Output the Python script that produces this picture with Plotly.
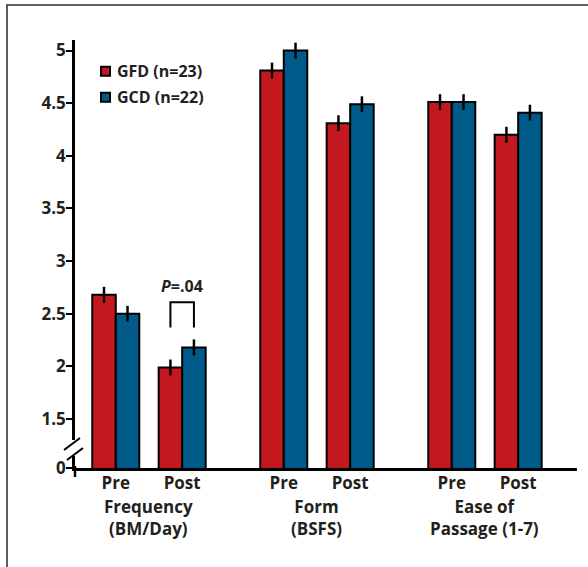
import plotly.graph_objects as go

# ---------------- data ----------------
topics = [["Frequency", "(BM/Day)"], ["Form", "(BSFS)"], ["Ease of", "Passage (1-7)"]]
periods = ["Pre", "Post"]
series_names = ["GFD (n=23)", "GCD (n=22)"]
gfd_vals = [2.68, 1.99, 4.81, 4.31, 4.51, 4.20]
gcd_vals = [2.50, 2.18, 5.00, 4.49, 4.51, 4.41]
gfd_err = [0.076, 0.075, 0.075, 0.075, 0.075, 0.076]
gcd_err = [0.075, 0.076, 0.075, 0.075, 0.075, 0.075]
y_tick_vals = [1.5, 2, 2.5, 3, 3.5, 4, 4.5, 5]
y_tick_text = ["1.5", "2", "2.5", "3", "3.5", "4", "4.5", "5"]
y_break_label = "0"
p_label = "<i>P</i>=.04"

# ---------------- styles / layout ----------------
RED = "#C4181F"
BLUE = "#005A8A"
INK = "#231F20"
FONT = "Open Sans"
WEIGHT = 700
W, H = 588, 567
L, R, T, B = 75, 11, 40, 99
PW, PH = W - L - R, H - T - B


def px(x):
    return (x - L) / PW


def py(y):
    return (H - B - y) / PH


def fnt(size):
    return dict(family=FONT, size=size, color=INK, weight=WEIGHT)


topic_step = 2.53
pos = [t * topic_step + p for t in range(len(topics)) for p in range(len(periods))]
bw = 0.354
y_min, y_max = 1.035, 5.10

fig = go.Figure()
for vals, errs, color, name, off in [
    (gfd_vals, gfd_err, RED, series_names[0], -bw),
    (gcd_vals, gcd_err, BLUE, series_names[1], 0.0),
]:
    fig.add_trace(go.Bar(
        x=pos, y=vals, width=bw, offset=off, name=name,
        marker=dict(color=color, line=dict(color="black", width=2)),
        error_y=dict(type="data", array=errs, visible=True, color="black",
                     thickness=2.5, width=0),
        showlegend=False,
    ))

fig.update_layout(
    width=W, height=H, autosize=False,
    margin=dict(l=L, r=R, t=T, b=B, pad=0),
    paper_bgcolor="white", plot_bgcolor="white",
    barmode="overlay",
    font=fnt(17),
    xaxis=dict(
        range=[-0.614, 6.946], showgrid=False, zeroline=False,
        showline=True, linecolor="black", linewidth=2.5, mirror=False,
        tickvals=pos, ticktext=periods * len(topics),
        ticks="", ticklabelstandoff=-2, tickfont=fnt(17),
    ),
    yaxis=dict(
        range=[y_min, y_max], showgrid=False, zeroline=False,
        showline=True, linecolor="black", linewidth=2.5, mirror=False,
        tickvals=[y_min] + y_tick_vals, ticktext=[y_break_label] + y_tick_text,
        ticks="outside", ticklen=6, tickwidth=2, tickcolor="black",
        ticklabelstandoff=-3,
        tickfont=fnt(17),
    ),
)

shapes = []
# outer frame (left and top edges) as one open path
shapes.append(dict(type="path", xref="paper", yref="paper",
                   path=f"M{px(7)},{py(H)} L{px(7)},{py(5)} L{px(W)},{py(5)}",
                   line=dict(color="#2b2b2b", width=1.5), layer="below"))
# y-axis extension below x-axis
shapes.append(dict(type="line", xref="paper", yref="paper",
                   x0=0, x1=0, y0=py(466), y1=py(477),
                   line=dict(color="black", width=2.5), layer="above"))
# axis break gap
shapes.append(dict(type="rect", xref="paper", yref="paper",
                   x0=px(71), x1=px(79), y0=py(456), y1=py(440),
                   fillcolor="white", line=dict(width=0), layer="above"))
for (x0, y0, x1, y1) in [(64, 450, 80, 438), (67, 460, 83, 448)]:
    shapes.append(dict(type="line", xref="paper", yref="paper",
                       x0=px(x0), y0=py(y0), x1=px(x1), y1=py(y1),
                       line=dict(color="black", width=2), layer="above"))
# legend squares
for i, color in enumerate([RED, BLUE]):
    top = 66.7 + 26 * i
    shapes.append(dict(type="rect", xref="paper", yref="paper",
                       x0=px(101), x1=px(110), y0=py(top + 9), y1=py(top),
                       fillcolor=color, line=dict(color="black", width=2), layer="above"))
# significance bracket over "Post" frequency bars
bx0, bx1 = pos[1] - bw / 2, pos[1] + bw / 2
shapes.append(dict(type="path", xref="x", yref="y",
                   path=f"M{bx0},2.37 L{bx0},2.61 L{bx1},2.61 L{bx1},2.37",
                   line=dict(color="black", width=2)))
fig.update_layout(shapes=shapes)

ann = []
for i, name in enumerate(series_names):
    ann.append(dict(text=name, xref="paper", yref="paper", x=px(115), y=py(71.2 + 26 * i),
                    xanchor="left", yanchor="middle", showarrow=False, font=fnt(16)))
ann.append(dict(text=p_label, xref="x", yref="y", x=pos[1], y=2.76,
                xanchor="center", yanchor="middle", showarrow=False, font=fnt(16)))
for t, lines in enumerate(topics):
    cx = (pos[2 * t] + pos[2 * t + 1]) / 2
    ann.append(dict(text="<br>".join(lines), xref="x", yref="paper", x=cx, y=py(517),
                    xanchor="center", yanchor="middle", showarrow=False, font=fnt(17)))
fig.update_layout(annotations=ann)

fig.write_html("out.html",
               config={"displayModeBar": False},
               post_script=("document.body.style.margin='0';document.body.style.padding='0';"
                            "document.body.style.overflow='hidden';"
                            "document.documentElement.style.overflow='hidden';"))
